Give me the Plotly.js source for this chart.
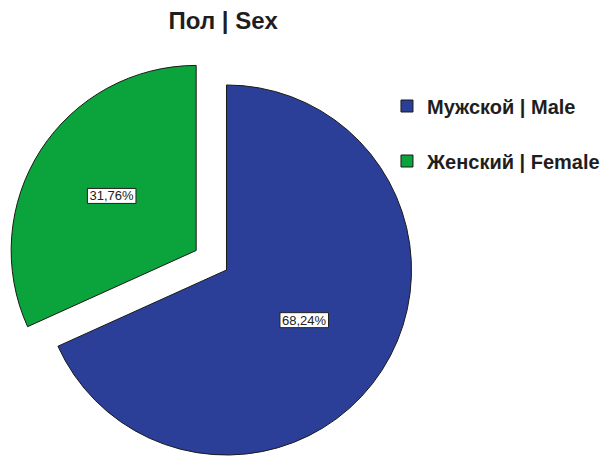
<!DOCTYPE html>
<html>
<head>
<meta charset="utf-8">
<script src="https://cdn.plot.ly/plotly-3.0.1.min.js"></script>
<style>
html, body { margin: 0; padding: 0; overflow: hidden; background: #fff; }
#chart { width: 610px; height: 500px; }
</style>
</head>
<body>
<div id="chart"></div>
<script>
// Data
var categories = ['Мужской | Male', 'Женский | Female'];
var shares = [68.24, 31.76];
var sliceColors = ['#2b3f99', '#0ba33c'];
var pulls = [0, 0.195];
var chartTitle = 'Пол | Sex';

// legend labels get a blank second line so rows are spaced like the original
var legendLabels = categories.map(function (c) { return c + '<br> '; });

var data = [{
  type: 'pie',
  labels: legendLabels,
  values: shares,
  sort: false,
  direction: 'clockwise',
  rotation: 0,
  pull: pulls,
  marker: { colors: sliceColors, line: { color: '#1a1a1a', width: 1 } },
  texttemplate: '%{percent:.2%}',
  textposition: 'inside',
  insidetextorientation: 'horizontal',
  insidetextfont: { family: 'Liberation Sans, Arial, sans-serif', size: 13, color: '#222' },
  hoverinfo: 'skip',
  domain: { x: [0.0088, 0.7338], y: [0.0178, 0.9022] }
}];

var layout = {
  width: 610,
  height: 500,
  margin: { l: 0, r: 0, t: 0, b: 0, autoexpand: false },
  paper_bgcolor: '#ffffff',
  separators: ', ',
  title: {
    text: chartTitle,
    x: 0.366, xanchor: 'center',
    y: 0.958, yanchor: 'middle',
    font: { family: 'Liberation Sans, Arial, sans-serif', size: 24, color: '#1e1e1e', weight: 'bold' }
  },
  showlegend: true,
  legend: {
    x: 0.6344, xanchor: 'left',
    y: 0.827, yanchor: 'top',
    valign: 'top',
    bgcolor: 'rgba(0,0,0,0)',
    font: { family: 'Liberation Sans, Arial, sans-serif', size: 20, color: '#1e1e1e', weight: 'bold' }
  }
};

Plotly.newPlot('chart', data, layout, { staticPlot: true }).then(function (gd) {
  gd.querySelectorAll('g.slicetext').forEach(function (g) {
    var t = g.querySelector('text');
    if (!t) return;
    var bb = t.getBBox();
    var rect = document.createElementNS('http://www.w3.org/2000/svg', 'rect');
    rect.setAttribute('x', bb.x - 2);
    rect.setAttribute('y', bb.y);
    rect.setAttribute('width', bb.width + 4);
    rect.setAttribute('height', bb.height);
    rect.setAttribute('fill', '#ffffff');
    rect.setAttribute('stroke', '#222');
    rect.setAttribute('stroke-width', '1');
    var tr = t.getAttribute('transform');
    if (tr) rect.setAttribute('transform', tr);
    g.insertBefore(rect, t);
  });
});
</script>
</body>
</html>
